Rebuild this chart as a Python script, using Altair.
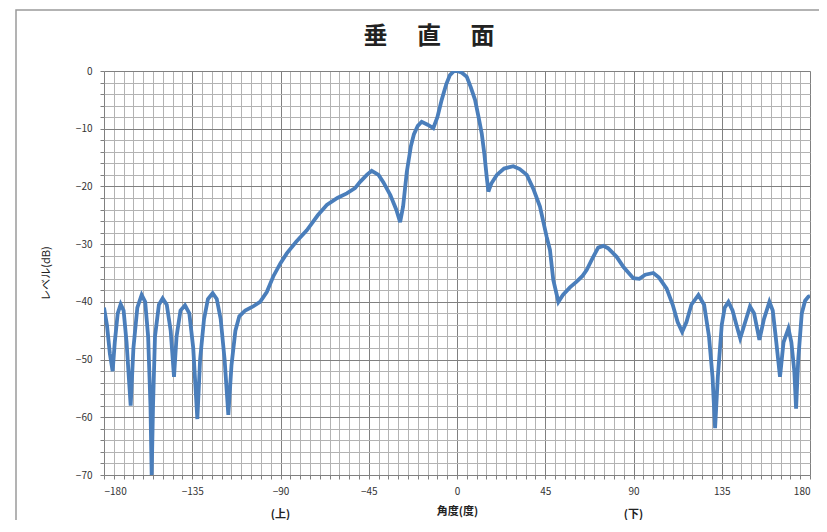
import altair as alt
import pandas as pd

angles = [
    -180, -178.5, -177, -175.6, -174.5, -173, -171.5, -170, -168.5, -166.4,
    -165, -163, -160.8, -159, -157.5, -156.3, -155.7, -155, -154, -152,
    -150.1, -148, -146, -144.3, -143, -141, -138.7, -136.5, -134.5, -132.4,
    -131, -129, -127, -124.6, -122.5, -120.5, -118.5, -116.6, -115, -113,
    -111, -108, -104, -100.4, -97, -93.7, -90, -86.8, -82, -76.6,
    -71, -66.4, -61, -56.2, -52, -49.4, -46, -43.5, -40, -37.5,
    -34, -31, -29, -27.5, -25.6, -23.5, -22, -20, -18, -15,
    -12.1, -10, -7.8, -5.5, -3.6, -1.5, 0.2, 2.5, 5, 7,
    9.2, 11, 12.6, 14, 15.2, 16, 17.5, 20.3, 24, 28.7,
    32, 35.6, 39, 42.3, 45.7, 47.4, 49.1, 51.7, 54, 57.6,
    61, 64, 66.1, 69, 72, 74.6, 77, 81.4, 85, 89.9,
    93, 96, 100.1, 103, 106.9, 110, 112.5, 114.8, 117, 119.5,
    123.1, 126, 128.5, 130.3, 131.6, 133, 135, 136.5, 138.4, 140.5,
    142.5, 144.4, 146.5, 149.4, 151.5, 154.2, 156.5, 159.3, 161, 162.5,
    164.7, 166.5, 169, 170.5, 172, 172.9, 174, 175.8, 177.5, 179.2, 180,
]
levels = [
    -41, -44, -49, -52, -47, -42, -40.4, -41.5, -47, -58,
    -48, -41, -38.8, -40, -46, -58, -70, -58, -46, -40.5,
    -39.4, -40.5, -45, -53, -46, -41.5, -40.6, -42, -48, -60.3,
    -50, -43, -39.5, -38.5, -39.5, -43, -50, -59.6, -51, -45,
    -42.5, -41.5, -40.8, -40, -38.3, -35.6, -33.3, -31.6, -29.6, -27.6,
    -25, -23.2, -22, -21.2, -20.3, -19.2, -18, -17.3, -18, -19.3,
    -21.5, -24, -26.2, -23.5, -17.5, -13, -11, -9.5, -8.8, -9.3,
    -9.9, -8, -5, -2.3, -0.7, 0, 0, -0.3, -1, -2.8,
    -5, -8, -10.8, -14.5, -18.5, -20.9, -19.5, -18, -16.9, -16.5,
    -17, -18, -20.5, -23.5, -28.7, -31, -36.2, -40, -38.8, -37.5,
    -36.5, -35.5, -34.5, -32.5, -30.6, -30.3, -30.7, -32.2, -34, -35.9,
    -36, -35.3, -35, -35.8, -37.7, -40.5, -43.5, -45.2, -43.5, -40.5,
    -38.8, -40.5, -46, -53, -61.9, -53, -44, -41, -40, -41.5,
    -44, -46.3, -44, -40.8, -42, -46.6, -43, -40, -41.5, -46,
    -53, -47, -44.6, -47, -52, -58.5, -50, -42, -39.8, -39.1, -39,
]

x_ticks = list(range(-180, 181, 5))
y_ticks = list(range(-70, 1, 2))
side_angles = [-90, 90]
side_labels = ["(上)", "(下)"]
chart_title = ["垂\u3000 直\u3000 面"]
x_title = "角度(度)"
y_title = "レベル(dB)"

FONT = "Noto Sans CJK JP"
df = pd.DataFrame({"angle": angles, "level": levels})
side_df = pd.DataFrame({"angle": side_angles, "txt": side_labels})
title_df = pd.DataFrame({"t": chart_title})

xscale = alt.Scale(domain=[-180, 180], nice=False, zero=False)
yscale = alt.Scale(domain=[-70, 0], nice=False, zero=False)

grid_x = {"condition": {"test": "datum.value % 45 === 0", "value": "#808080"}, "value": "#b3b3b3"}
grid_y = {"condition": {"test": "datum.value % 10 === 0", "value": "#808080"}, "value": "#b3b3b3"}

x_axis = alt.Axis(values=x_ticks, labelExpr="datum.value % 45 === 0 ? datum.label : ''",
                  gridColor=grid_x, gridWidth=1, tickColor="#808080", tickSize=4,
                  labelPadding=7, labelFontSize=10, labelColor="#333333",
                  domain=False, title=x_title, titleFont=FONT, titleFontSize=11,
                  titleFontWeight="bold", titlePadding=9, titleColor="#222222",
                  labelFont=FONT)
y_axis = alt.Axis(values=y_ticks, labelExpr="datum.value % 10 === 0 ? datum.label : ''",
                  gridColor=grid_y, gridWidth=1, tickColor="#808080", tickSize=4,
                  labelPadding=8, labelFontSize=10, labelColor="#333333",
                  domain=False, title=y_title, titleFont=FONT, titleFontSize=11,
                  titleFontWeight="normal", titlePadding=24, titleColor="#222222",
                  labelFont=FONT)

line = alt.Chart(df).mark_line(color="#4a7ebb", strokeWidth=3.8, clip=True).encode(
    x=alt.X("angle:Q", scale=xscale, axis=x_axis),
    y=alt.Y("level:Q", scale=yscale, axis=y_axis),
)

side = alt.Chart(side_df).mark_text(font=FONT, fontSize=11, fontWeight="bold", color="#222222",
                                    baseline="middle").encode(
    x=alt.X("angle:Q", scale=xscale, axis=x_axis),
    y=alt.value(444),
    text="txt:N",
)

title = alt.Chart(title_df).mark_text(font=FONT, fontSize=24, fontWeight="bold", color="#222222",
                                      baseline="middle", align="center").encode(
    x=alt.value(325), y=alt.value(-34), text="t:N",
)

frame = alt.Chart(pd.DataFrame({"k": [0]})).mark_rect(fill=None, stroke="#9a9a9a", strokeWidth=1.5,
                                                       clip=False).encode(
    x=alt.value(-88), x2=alt.value(740), y=alt.value(-61), y2=alt.value(480),
)

chart = alt.layer(frame, line, side, title).properties(
    width=706, height=404,
    autosize=alt.AutoSizeParams(type="none"),
    padding={"left": 96, "top": 63, "right": 9, "bottom": 45},
).configure_view(stroke="#808080", strokeWidth=1).configure(background="white")

chart.save("out.html", embed_options={"renderer": "svg", "actions": False})
